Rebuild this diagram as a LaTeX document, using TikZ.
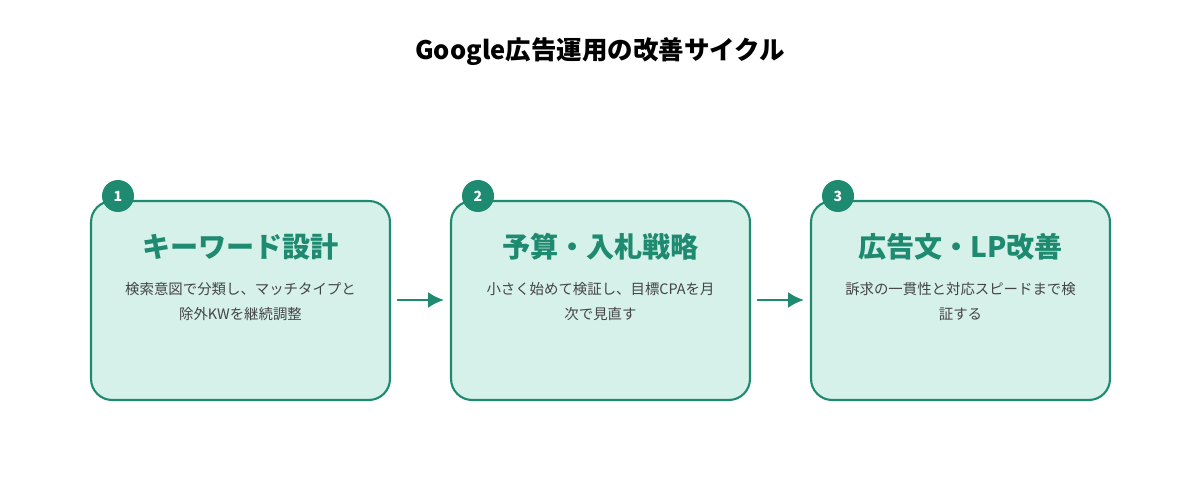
\documentclass[tikz,border=0pt]{standalone}
\usepackage{fontspec}
\setmainfont{Noto Sans CJK JP}
\usetikzlibrary{positioning,arrows.meta}
\definecolor{teal1}{HTML}{1E8A70}
\definecolor{mint}{HTML}{D6F1EA}
\definecolor{txtgray}{HTML}{444444}
\tikzset{
  stepbox/.style={draw=teal1, line width=1.2pt, fill=mint, rounded corners=12pt,
    minimum width=5.98cm, minimum height=3.98cm, inner sep=0pt},
  badge/.style={circle, fill=teal1, text=white, minimum size=0.64cm, inner sep=0pt,
    font=\fontsize{8}{8}\selectfont\bfseries},
  steptitle/.style={text=teal1, font=\fontsize{16}{18}\selectfont\bfseries},
  stepdesc/.style={text=txtgray, align=center, font=\fontsize{8.2}{14.2}\selectfont},
  flow/.style={draw=teal1, line width=1.4pt, -{Latex[length=9pt,width=9pt]}}
}
\begin{document}
\begin{tikzpicture}[x=0.02cm,y=-0.02cm]
  \useasboundingbox (0,0) rectangle (1200,500);
  \node[font=\fontsize{14.5}{16}\selectfont\bfseries] (title) at (600,52) {Google広告運用の改善サイクル};
  % step boxes
  \node[stepbox] (s1) at (240.5,300.5) {};
  \node[stepbox] (s2) at (600.5,300.5) {};
  \node[stepbox] (s3) at (960.5,300.5) {};
  % badges
  \node[badge] (b1) at (118,196) {1};
  \node[badge] (b2) at (478,196) {2};
  \node[badge] (b3) at (838,196) {3};
  % titles
  \node[steptitle] (t1) at (240.5,247) {キーワード設計};
  \node[steptitle] (t2) at (600.5,247) {予算・入札戦略};
  \node[steptitle] (t3) at (960.5,247) {広告文・LP改善};
  % descriptions
  \node[stepdesc, anchor=north] (d1) at (240.5,276) {検索意図で分類し、マッチタイプと\\除外KWを継続調整};
  \node[stepdesc, anchor=north] (d2) at (600.5,276) {小さく始めて検証し、目標CPAを月\\次で見直す};
  \node[stepdesc, anchor=north] (d3) at (960.5,276) {訴求の一貫性と対応スピードまで検\\証する};
  % arrows
  \coordinate (a1s) at (397,300); \coordinate (a1e) at (444,300);
  \coordinate (a2s) at (757,300); \coordinate (a2e) at (804,300);
  \draw[flow] (a1s) -- (a1e);
  \draw[flow] (a2s) -- (a2e);
\end{tikzpicture}
\end{document}
